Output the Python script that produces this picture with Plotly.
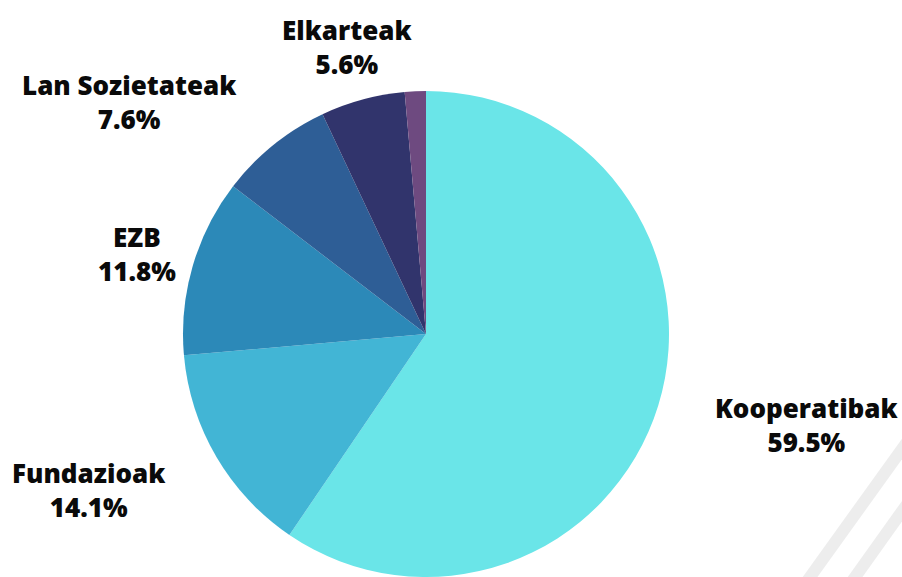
import math
import plotly.graph_objects as go

# ---- data ----
categories = ["Kooperatibak", "Fundazioak", "EZB", "Lan Sozietateak", "Elkarteak", "Besteak"]
values = [59.5, 14.1, 11.8, 7.6, 5.6, 1.4]
show_label = [True, True, True, True, True, False]

colors = ["#6ae5e8", "#42b5d5", "#2c89b8", "#2e5e96", "#31346c", "#6e4a80"]

W, H = 902, 577
MT = 91
R = (H - MT) / 2.0           # pie radius in px (height-limited domain)
CX = 426.0                   # pie centre x in px
CY = MT + R                  # pie centre y in px (from top)

fig = go.Figure()
fig.add_trace(go.Pie(
    labels=categories,
    values=values,
    sort=False,
    direction="clockwise",
    rotation=0,
    marker=dict(colors=colors, line=dict(width=0)),
    textinfo="none",
    hoverinfo="label+percent",
    showlegend=False,
    domain=dict(x=[(CX - R) / W, (CX + R) / W], y=[0, 1]),
))

# label offsets (pixels) from the rim point at each slice's mid-angle
label_shift = [(149, 20), (-127, 33), (-56, -12), (-144, -43), (-16, -52), (0, 0)]

total = sum(values)
cum = 0.0
annotations = []
for cat, v, show, (sx, sy) in zip(categories, values, show_label, label_shift):
    mid = (cum + v / 2.0) / total * 2 * math.pi
    cum += v
    if not show:
        continue
    px = CX + R * math.sin(mid)
    py = CY - R * math.cos(mid)
    pct = v / total * 100
    annotations.append(dict(
        x=px / W, y=(H - py) / (H - MT), xref="paper", yref="paper",
        xshift=sx, yshift=-sy,
        text=f"{cat}<br>{pct:.1f}%",
        showarrow=False, xanchor="center", yanchor="middle", align="center",
        font=dict(family="Open Sans", size=26, color="#0a0a0a", weight=800),
    ))

# decorative diagonal stripes (bottom-right)
stripes = [((790, 605), (940, 396)), ((838, 601), (940, 458))]
shapes = []
for (x0, y0), (x1, y1) in stripes:
    shapes.append(dict(
        type="line", xref="paper", yref="paper", layer="below",
        x0=x0 / W, y0=(H - y0) / (H - MT), x1=x1 / W, y1=(H - y1) / (H - MT),
        line=dict(color="#ededed", width=12),
    ))

fig.update_layout(
    width=W, height=H,
    margin=dict(l=0, r=0, t=MT, b=0),
    paper_bgcolor="white", plot_bgcolor="white",
    annotations=annotations,
    shapes=shapes,
)

fig.write_html("out.html")
